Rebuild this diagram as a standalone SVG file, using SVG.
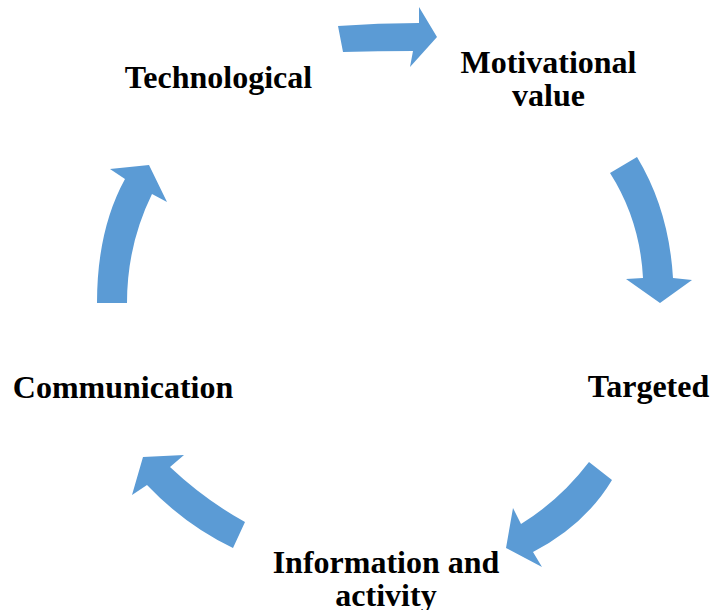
<svg xmlns="http://www.w3.org/2000/svg" width="710" height="610" viewBox="0 0 710 610">
<style>
.lbl{font-family:"Liberation Serif","Times New Roman",serif;font-weight:bold;font-size:32px;fill:#000;text-anchor:middle}
.arr{fill:#5B9BD5;stroke:none}
</style>
<rect width="710" height="610" fill="#fff"/>
<g id="connectors">
<path class="arr" d="M338,26 Q378,23 419,23 L419,7 L437,37 L410,67 L413,51 Q378,51 343,52 Z"/>
<path class="arr" d="M637,157 Q669,210 673,278 L692,280 L660,303 L626,279 L643,278 Q640,220 610,173 Z"/>
<path class="arr" d="M589,462 Q560,500 521,524 L513,508 L506,548 L542,567 L533,552 Q585,525 612,480 Z"/>
<path class="arr" d="M245,522 Q205,500 170,467 L184,455 L143,457 L132,495 L147,485 Q185,525 233,548 Z"/>
<path class="arr" d="M97,303 Q97,230 125,179 L110,169 L149,165 L167,202 L152,194 Q127,245 127,303 Z"/>
</g>
<g id="node-technological"><text class="lbl" x="218.5" y="88">Technological</text></g>
<g id="node-motivational"><text class="lbl" x="548.5" y="73">Motivational</text><text class="lbl" x="548.5" y="105.5">value</text></g>
<g id="node-targeted"><text class="lbl" x="648.5" y="397">Targeted</text></g>
<g id="node-information"><text class="lbl" x="386" y="573">Information and</text><text class="lbl" x="386" y="605.5">activity</text></g>
<g id="node-communication"><text class="lbl" x="123" y="397.5">Communication</text></g>
</svg>
